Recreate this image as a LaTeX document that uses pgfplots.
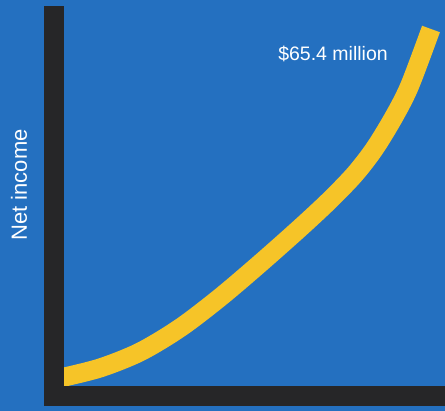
\documentclass[border=0pt]{standalone}
\usepackage{pgfplots}
\pgfplotsset{compat=1.18}
\usepackage{fontspec}
\setmainfont{Liberation Sans}
\definecolor{bgblue}{RGB}{36,112,192}
\definecolor{baraxis}{RGB}{38,38,40}
\definecolor{curveyellow}{RGB}{246,196,40}
\begin{document}
\begin{tikzpicture}
\fill[bgblue] (0,0) rectangle (445pt,411pt);
\begin{axis}[
  x=1pt, y=1pt,
  at={(54pt,14.5pt)}, anchor=south west,
  xmin=54, xmax=435, ymin=14.5, ymax=395,
  axis x line=bottom, axis y line=left,
  axis line style={-, line width=20pt, color=baraxis, line cap=rect},
  axis on top,
  xtick=\empty, ytick=\empty,
  clip=false,
]
\addplot[curveyellow, line width=19pt, line cap=butt, smooth] coordinates {
  (60,33) (100,43) (140,59) (180,83) (220,113.5) (260,147.5) (300,183) (330,211) (355,237) (375,263) (395,296) (410,326) (431,382)
};
\node[white, font=\fontsize{19.5}{22}\selectfont, anchor=base] at (axis cs:333,350) {\$65.4 million};
\node[white, font=\fontsize{22}{26}\selectfont, rotate=90, anchor=base] at (axis cs:27,226) {Net income};
\end{axis}
\end{tikzpicture}
\end{document}
